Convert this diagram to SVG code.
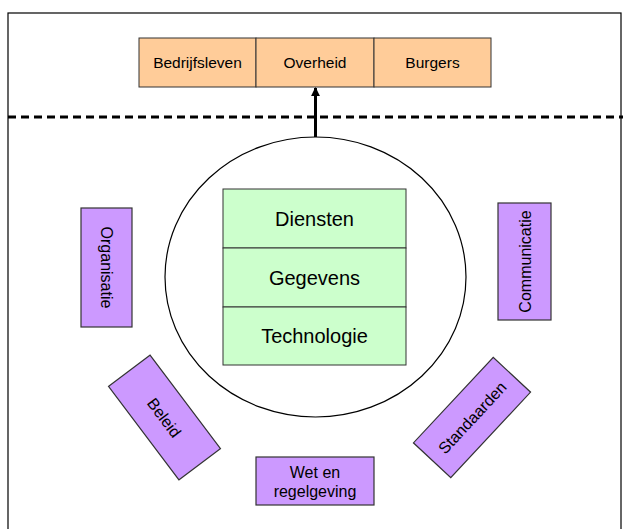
<svg xmlns="http://www.w3.org/2000/svg" width="623" height="529" viewBox="0 0 623 529">
  <style>
    .frame { fill: #ffffff; stroke: #000000; stroke-width: 1.2; }
    .orange { fill: #FFCC99; stroke: #333333; stroke-width: 1; }
    .green { fill: #CCFFCC; stroke: #333333; stroke-width: 1; }
    .purple { fill: #CC99FF; stroke: #333333; stroke-width: 1.2; }
    .ring { fill: #ffffff; stroke: #000000; stroke-width: 1.2; }
    .sep { stroke: #000000; stroke-width: 3; stroke-dasharray: 8 5; fill: none; }
    .conn { stroke: #000000; stroke-width: 3; fill: none; }
    text { font-family: "Liberation Sans", Arial, sans-serif; fill: #000000; text-anchor: middle; }
    .t15 { font-size: 15.5px; }
    .t16 { font-size: 16px; }
    .t20 { font-size: 20px; }
  </style>
  <defs>
    <marker id="arrowhead" viewBox="0 0 10 10" refX="9" refY="5" markerWidth="3" markerHeight="3" orient="auto" markerUnits="strokeWidth">
      <path d="M0,0 L10,5 L0,10 z" fill="#000000"/>
    </marker>
  </defs>

  <!-- outer frame, open at the bottom -->
  <rect class="frame" x="8" y="13" width="613" height="530"/>

  <!-- separator between the outside world and the core -->
  <line class="sep" x1="8" y1="117" x2="623" y2="117"/>

  <!-- stakeholders -->
  <g id="bedrijfsleven">
    <rect class="orange" x="139" y="38" width="117" height="49"/>
    <text class="t15" x="197.5" y="68">Bedrijfsleven</text>
  </g>
  <g id="overheid">
    <rect class="orange" x="256" y="38" width="118" height="49"/>
    <text class="t15" x="315" y="68">Overheid</text>
  </g>
  <g id="burgers">
    <rect class="orange" x="374" y="38" width="117" height="49"/>
    <text class="t15" x="432.5" y="68">Burgers</text>
  </g>

  <!-- core circle with layered stack -->
  <g id="kern">
    <ellipse class="ring" cx="315.5" cy="277" rx="150.5" ry="140"/>
  </g>
  <g id="diensten">
    <rect class="green" x="223" y="189" width="183" height="59"/>
    <text class="t20" x="314.5" y="226">Diensten</text>
  </g>
  <g id="gegevens">
    <rect class="green" x="223" y="248" width="183" height="59"/>
    <text class="t20" x="314.5" y="285">Gegevens</text>
  </g>
  <g id="technologie">
    <rect class="green" x="223" y="307" width="183" height="58"/>
    <text class="t20" x="314.5" y="343">Technologie</text>
  </g>

  <!-- surrounding aspects -->
  <g id="organisatie" transform="translate(106.5 267.5) rotate(90)">
    <rect class="purple" x="-59.5" y="-25.5" width="119" height="51"/>
    <text class="t16" x="0" y="6">Organisatie</text>
  </g>
  <g id="communicatie" transform="translate(524.5 261.5) rotate(-90)">
    <rect class="purple" x="-58.5" y="-26.5" width="117" height="53"/>
    <text class="t16" x="0" y="6">Communicatie</text>
  </g>
  <g id="beleid" transform="translate(164.5 417.5) rotate(53)">
    <rect class="purple" x="-58.5" y="-26" width="117" height="52"/>
    <text class="t16" x="0" y="6">Beleid</text>
  </g>
  <g id="standaarden" transform="translate(472 417.5) rotate(-47)">
    <rect class="purple" x="-58.5" y="-25.5" width="117" height="51"/>
    <text class="t16" x="0" y="6">Standaarden</text>
  </g>
  <g id="wetgeving">
    <rect class="purple" x="256" y="457" width="118" height="48"/>
    <text class="t16" x="315" y="478">Wet en</text>
    <text class="t16" x="315" y="497">regelgeving</text>
  </g>

  <!-- connectors -->
  <g id="connectors">
    <line class="conn" x1="315.5" y1="137" x2="315.5" y2="88" marker-end="url(#arrowhead)"/>
  </g>
</svg>
